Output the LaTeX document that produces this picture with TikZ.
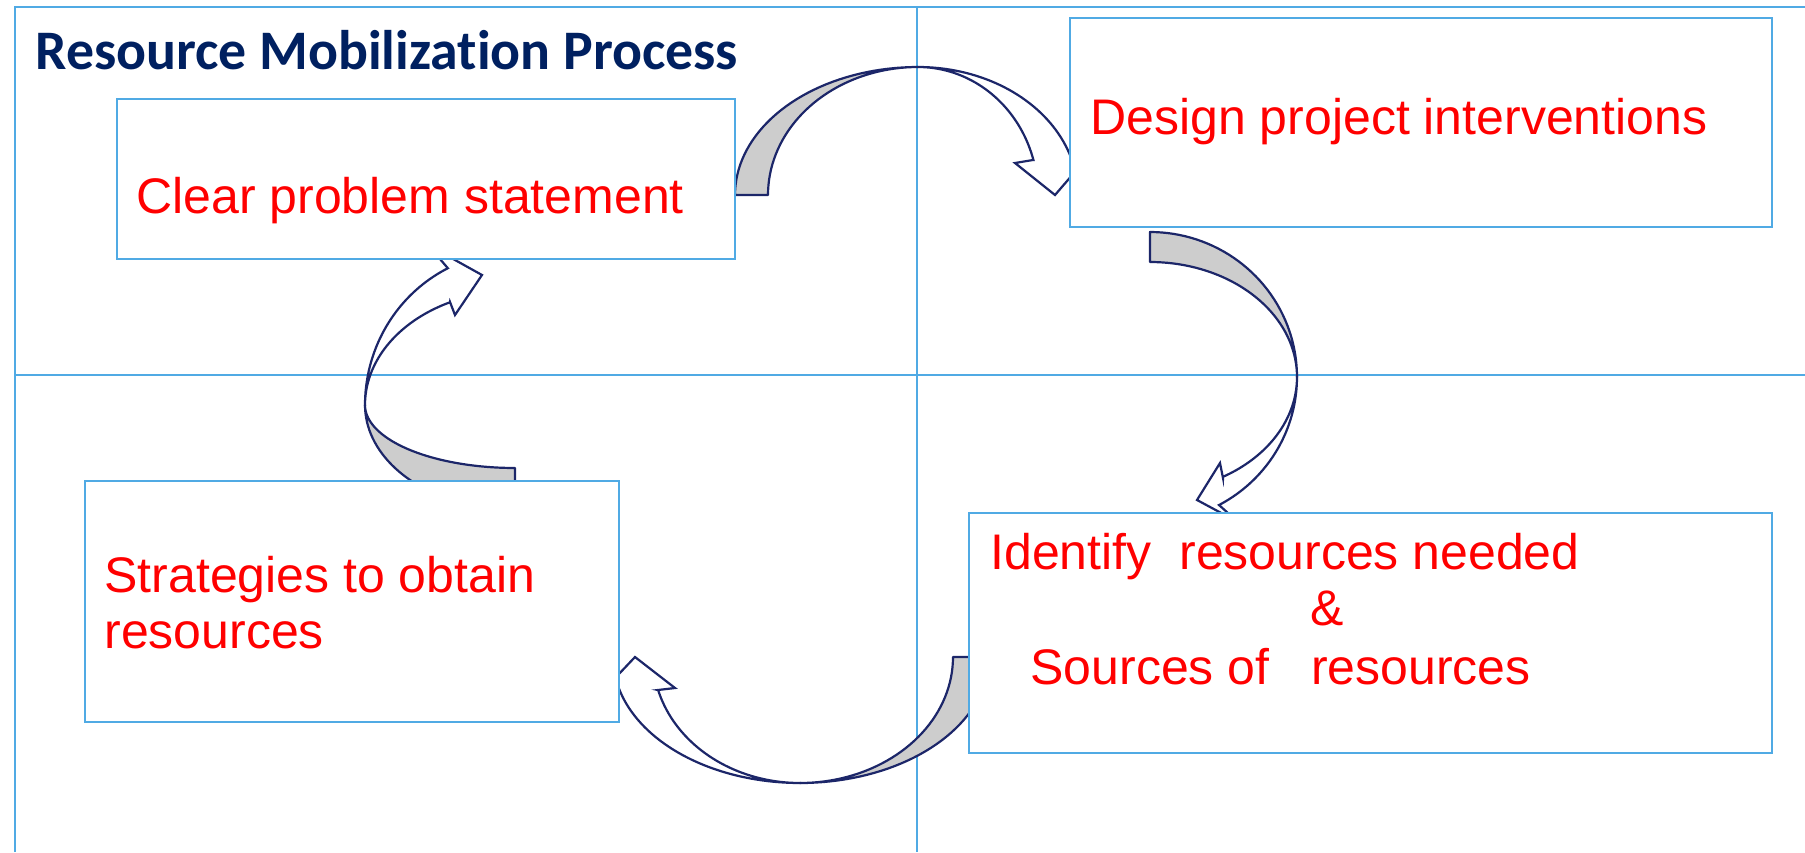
\documentclass[tikz,border=0pt]{standalone}
\usepackage{fontspec}
\setmainfont{Liberation Sans}
\newfontfamily\titlefont[Ligatures=NoCommon]{Carlito}
\usepackage{xcolor}
\usetikzlibrary{positioning}

\definecolor{gridblue}{RGB}{80,170,228}
\definecolor{arrowline}{RGB}{28,38,105}
\definecolor{titleblue}{RGB}{0,32,96}
\definecolor{backgray}{RGB}{205,205,205}

\tikzset{
  gridline/.style={draw=gridblue, line width=1.2pt},
  stagebox/.style={draw=gridblue, line width=1.1pt, fill=white, anchor=north west, inner sep=0pt},
  stagetext/.style={text=red, font=\fontsize{25}{28.5}\selectfont, anchor=base west, inner sep=0pt},
  backside/.style={draw=arrowline, line width=1.1pt, fill=backgray, line join=round},
  frontside/.style={draw=arrowline, line width=1.1pt, fill=white, line join=miter},
}

\begin{document}
\begin{tikzpicture}[x=0.5pt, y=-0.5pt]
\useasboundingbox (0,0) rectangle (1805,852);

% Grid of four quarters
\draw[gridline] (15,852) -- (15,7) -- (1805,7);
\draw[gridline] (15,375) -- (1805,375);
\draw[gridline] (917,7) -- (917,852);

% Title
\node[anchor=base west, inner sep=0pt, text=titleblue,
      font=\titlefont\bfseries\fontsize{27.9}{30}\selectfont] (title) at (35,69) {Resource Mobilization Process};

% Curved arrow 1: problem -> design (over the top)
\draw[backside] (735,195)
  -- plot[domain=180:90, samples=40, variable=\t] ({918+183*cos(\t)}, {195-128*sin(\t)})
  -- plot[domain=90:180, samples=40, variable=\t] ({918+150*cos(\t)}, {195-128*sin(\t)})
  -- cycle;
\draw[frontside] (918,67)
  -- plot[domain=90:15, samples=40, variable=\t] ({918+160*cos(\t)}, {195-128*sin(\t)})
  -- (1092,152) -- (1055,195) -- (1015,163) -- (1033,160)
  -- plot[domain=15.87:90, samples=40, variable=\t] ({918+120*cos(\t)}, {195-128*sin(\t)})
  -- cycle;

% Curved arrow 2: design -> identify (down the right)
\draw[backside] (1150,232)
  -- plot[domain=90:0, samples=40, variable=\t] ({1150+147*cos(\t)}, {377-145*sin(\t)})
  -- plot[domain=0:90, samples=40, variable=\t] ({1150+147*cos(\t)}, {377-115*sin(\t)})
  -- cycle;
\draw[frontside] (1297,377)
  -- plot[domain=0:-62, samples=40, variable=\t] ({1150+147*cos(\t)}, {377-145*sin(\t)})
  -- (1238,522) -- (1197,500) -- (1220,463) -- (1223,478)
  -- plot[domain=-60.2:0, samples=40, variable=\t] ({1150+147*cos(\t)}, {377-115*sin(\t)})
  -- cycle;

% Curved arrow 3: identify -> strategies (under the bottom)
\draw[backside] (989,657)
  -- plot[domain=0:-90, samples=40, variable=\t] ({800+189*cos(\t)}, {657-126*sin(\t)})
  -- plot[domain=-90:0, samples=40, variable=\t] ({800+153*cos(\t)}, {657-126*sin(\t)})
  -- cycle;
\draw[frontside] (800,783)
  -- plot[domain=-90:-165.8, samples=40, variable=\t] ({800+187*cos(\t)}, {657-126*sin(\t)})
  -- (600,694) -- (635,657) -- (675,688) -- (658,690)
  -- plot[domain=-164.8:-90, samples=40, variable=\t] ({800+147*cos(\t)}, {657-126*sin(\t)})
  -- cycle;

% Curved arrow 4: strategies -> problem (up the left)
\draw[backside] (515,510)
  -- plot[domain=-90:-180, samples=40, variable=\t] ({515+150*cos(\t)}, {405-105*sin(\t)})
  -- plot[domain=-180:-90, samples=40, variable=\t] ({515+150*cos(\t)}, {405-63*sin(\t)})
  -- cycle;
\draw[frontside] (365,405)
  -- plot[domain=180:116.6, samples=40, variable=\t] ({515+150*cos(\t)}, {405-153*sin(\t)})
  -- (428,245) -- (482,275) -- (455,315) -- (450,302)
  -- plot[domain=115.7:180, samples=40, variable=\t] ({515+150*cos(\t)}, {405-114*sin(\t)})
  -- cycle;

% Boxes
\node[stagebox, minimum width=309pt, minimum height=80pt] (problem) at (116,98) {};
\node[stagebox, minimum width=351pt, minimum height=104.5pt] (design) at (1069,17) {};
\node[stagebox, minimum width=401.5pt, minimum height=120pt] (identify) at (968,512) {};
\node[stagebox, minimum width=267pt, minimum height=120.5pt] (strategies) at (84,480) {};

% Texts
\node[stagetext] (problemtxt) at (136,213) {Clear problem statement};
\node[stagetext] (designtxt) at (1090,134) {Design project interventions};
\node[stagetext] (identifytxt) at (990,569) {Identify\ \ resources needed};
\node[stagetext] (andtxt) at (1310,625) {\&};
\node[stagetext] (sourcestxt) at (1030,684) {Sources of\ \ \ resources};
\node[stagetext] (strategytxt) at (104,592) {Strategies to obtain};
\node[stagetext] (resourcetxt) at (104,648) {resources};
\end{tikzpicture}
\end{document}
